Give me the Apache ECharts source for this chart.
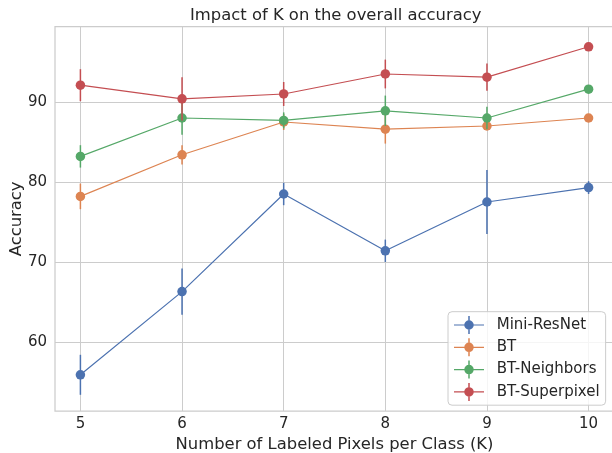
<!DOCTYPE html>
<html>
<head>
<meta charset="utf-8">
<script src="https://cdn.jsdelivr.net/npm/echarts@6/dist/echarts.min.js"></script>
<style>
  html, body { margin: 0; padding: 0; background: #ffffff; }
  #chart { width: 612px; height: 453px; }
</style>
</head>
<body>
<div id="chart"></div>
<script>
// Number of labeled pixels per class
const kValues = [5, 6, 7, 8, 9, 10];
const xTicks = [5, 6, 7, 8, 9, 10];
const yTicks = [60, 70, 80, 90];

const seriesNames = ['Mini-ResNet', 'BT', 'BT-Neighbors', 'BT-Superpixel'];
const seriesColors = ['#4C72B0', '#DD8452', '#55A868', '#C44E52'];

// Mean accuracy per K
const miniResNetMean   = [55.9, 66.3, 78.5, 71.4, 77.5, 79.3];
const btMean           = [78.2, 83.4, 87.5, 86.6, 87.0, 88.0];
const btNeighborsMean  = [83.2, 88.0, 87.7, 88.9, 88.0, 91.6];
const btSuperpixelMean = [92.1, 90.4, 91.0, 93.5, 93.1, 96.9];

// Half-length of the error bars per K
const miniResNetErr   = [2.5, 2.9, 1.4, 1.4, 4.0, 0.8];
const btErr           = [1.6, 1.2, 1.0, 1.8, 0.5, 0.4];
const btNeighborsErr  = [1.4, 2.1, 1.0, 1.9, 1.4, 0.4];
const btSuperpixelErr = [2.0, 2.7, 1.5, 1.8, 1.7, 0.3];

const means = [miniResNetMean, btMean, btNeighborsMean, btSuperpixelMean];
const errs = [miniResNetErr, btErr, btNeighborsErr, btSuperpixelErr];

const FONT = 'DejaVu Sans';
const TEXT = '#262626';
const GRIDC = '#cccccc';

// legend handle: horizontal line, vertical error bar and a round marker
// (all sub-paths wound clockwise so the overlaps stay filled)
const handleIcon = 'path://M0 8.4h30v1.2h-30z M14.25 0h1.5v18h-1.5z M10.25 9a4.75 4.75 0 1 1 9.5 0a4.75 4.75 0 1 1 -9.5 0z';

const series = [];
seriesNames.forEach(function (name, i) {
  const color = seriesColors[i];
  const bars = kValues.map(function (k, j) {
    return [k, means[i][j] - errs[i][j], means[i][j] + errs[i][j]];
  });
  series.push({
    name: name,
    type: 'custom',
    z: 2 + 2 * i,
    silent: true,
    itemStyle: { color: color },
    encode: { x: 0, y: [1, 2] },
    data: bars,
    renderItem: function (params, api) {
      const p1 = api.coord([api.value(0), api.value(1)]);
      const p2 = api.coord([api.value(0), api.value(2)]);
      return {
        type: 'line',
        shape: { x1: p1[0], y1: p1[1], x2: p2[0], y2: p2[1] },
        style: { stroke: color, lineWidth: 1.5 }
      };
    }
  });
  series.push({
    name: name,
    type: 'line',
    z: 3 + 2 * i,
    data: kValues.map(function (k, j) { return [k, means[i][j]]; }),
    symbol: 'circle',
    symbolSize: 9.5,
    showSymbol: true,
    itemStyle: { color: color },
    lineStyle: { color: color, width: 1.2 },
    emphasis: { disabled: true }
  });
});

const chart = echarts.init(document.getElementById('chart'), null, { renderer: 'canvas' });
chart.setOption({
  animation: false,
  backgroundColor: '#ffffff',
  textStyle: { fontFamily: FONT },
  title: {
    text: 'Impact of K on the overall accuracy',
    left: 190,
    top: 8,
    padding: 0,
    textStyle: { fontFamily: FONT, fontSize: 16.4, fontWeight: 'normal', color: TEXT }
  },
  grid: {
    left: 55, top: 26.7, width: 559, height: 384.3,
    outerBoundsMode: 'none',
    containLabel: false,
    show: true, borderColor: GRIDC, borderWidth: 1.25, backgroundColor: '#ffffff'
  },
  xAxis: {
    type: 'value',
    min: 4.75, max: 10.25,
    name: 'Number of Labeled Pixels per Class (K)',
    nameLocation: 'middle',
    nameGap: 26,
    nameMoveOverlap: false,
    nameTextStyle: { fontFamily: FONT, fontSize: 16.4, color: TEXT },
    axisLine: { show: false },
    axisTick: { show: false, customValues: xTicks },
    axisLabel: { customValues: xTicks, margin: 6, fontFamily: FONT, fontSize: 15, color: TEXT },
    splitLine: { show: true, lineStyle: { color: GRIDC, width: 1 } }
  },
  yAxis: {
    type: 'value',
    min: 51.375, max: 99.41,
    name: 'Accuracy',
    nameLocation: 'middle',
    nameGap: 30,
    nameMoveOverlap: false,
    nameTextStyle: { fontFamily: FONT, fontSize: 16.4, color: TEXT },
    axisLine: { show: false },
    axisTick: { show: false, customValues: yTicks },
    axisLabel: { customValues: yTicks, margin: 8, fontFamily: FONT, fontSize: 15, color: TEXT },
    splitLine: { show: true, lineStyle: { color: GRIDC, width: 1 } }
  },
  legend: {
    data: seriesNames.map(function (n) { return { name: n, icon: handleIcon }; }),
    orient: 'vertical',
    left: 448,
    top: 311.7,
    itemWidth: 30,
    itemHeight: 18,
    itemGap: 4.3,
    padding: [4.3, 6, 4.3, 6],
    backgroundColor: 'rgba(255,255,255,0.8)',
    borderColor: '#cccccc',
    borderWidth: 1,
    borderRadius: 4,
    selectedMode: false,
    textStyle: { fontFamily: FONT, fontSize: 15, color: TEXT, padding: [0, 0, 0, 7.7], lineHeight: 18 }
  },
  series: series
});
</script>
</body>
</html>
